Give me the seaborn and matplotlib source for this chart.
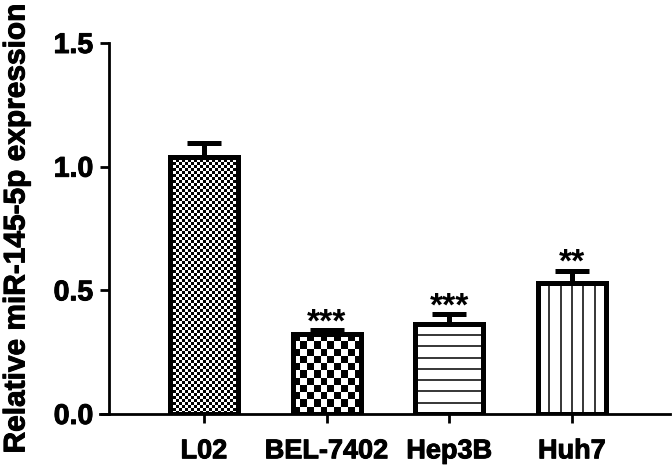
import numpy as np
import pandas as pd
import matplotlib
matplotlib.use("Agg")
import matplotlib.pyplot as plt
import matplotlib.patheffects as pe
import seaborn as sns

# ---- data ----
categories = ["L02", "BEL-7402", "Hep3B", "Huh7"]
means = [1.04, 0.323, 0.362, 0.530]
errors = [0.056, 0.017, 0.043, 0.050]
stars = ["", "***", "***", "**"]
yticks = [0.0, 0.5, 1.0, 1.5]
ylabel = "Relative miR-145-5p expression"

sns.set_theme(style="ticks")
plt.rcParams["font.family"] = ["Liberation Sans", "DejaVu Sans"]
plt.rcParams["font.weight"] = "bold"

W, H = 672, 468
fig = plt.figure(figsize=(W / 100, H / 100), dpi=100)
ax_l, ax_r, ax_b, ax_t = 100, 670, 414, 43
ax = fig.add_axes([ax_l / W, 1 - ax_b / H, (ax_r - ax_l) / W, (ax_b - ax_t) / H])

df = pd.DataFrame({"cat": categories, "val": means})
sns.barplot(data=df, x="cat", y="val", ax=ax, width=0.555, color="white",
            edgecolor="black", linewidth=3.6, errorbar=None, zorder=2)

ax.set_xlim(-0.848, 3.80)
ax.set_ylim(0, 1.5)
ax.spines["left"].set_position(("data", -0.774))
ax.spines["top"].set_visible(False)
ax.spines["right"].set_visible(False)
for s in ["left", "bottom"]:
    ax.spines[s].set_linewidth(2.0)
    ax.spines[s].set_color("black")
    ax.spines[s].set_zorder(3)

heavy = [pe.withStroke(linewidth=0.7, foreground="black")]

ax.set_yticks(yticks)
ax.set_yticklabels([f"{v:.1f}" for v in yticks], fontsize=20.5, fontweight="bold")
ax.set_xticks(range(len(categories)))
ax.set_xticklabels(categories, fontsize=19.5, fontweight="bold")
for t in ax.get_xticklabels() + ax.get_yticklabels():
    t.set_color("black")
    t.set_path_effects(heavy)
ax.tick_params(axis="both", direction="out", length=6.5, width=2.0, color="black")
ax.tick_params(axis="y", pad=5)
ax.tick_params(axis="x", pad=11)
ax.set_xlabel("")
ax.set_ylabel(ylabel, fontsize=21.5, fontweight="bold", color="black")
ax.yaxis.label.set_path_effects(heavy)
ax.yaxis.set_label_coords(-0.122, 0.5)

bars = [p for p in ax.patches]
for p in bars:
    p.set_facecolor("none")

fig.canvas.draw()
px_per_x = ax.transData.transform((1, 0))[0] - ax.transData.transform((0, 0))[0]
px_per_y = abs(ax.transData.transform((0, 1))[1] - ax.transData.transform((0, 0))[1])


def checker(p, cell):
    x0, y0 = p.get_x(), p.get_y()
    w, h = p.get_width(), p.get_height()
    nx = max(1, int(round(w * px_per_x / cell)))
    ny = max(1, int(round(h * px_per_y / cell)))
    img = (np.add.outer(np.arange(ny), np.arange(nx)) % 2).astype(float)
    im = ax.imshow(img, cmap="gray", vmin=0, vmax=1, extent=[x0, x0 + w, y0, y0 + h],
                   origin="lower", interpolation="nearest", aspect="auto", zorder=1.5)
    im.set_clip_path(p)


def hlines(p, spacing):
    x0, y0 = p.get_x(), p.get_y()
    w, h = p.get_width(), p.get_height()
    step = spacing / px_per_y
    ys = np.arange(y0 + step, y0 + h - step * 0.4, step)
    lc = ax.hlines(ys, x0, x0 + w, colors="black", linewidth=1.1, zorder=1.5)
    lc.set_clip_path(p)


def vlines(p, n):
    x0, y0 = p.get_x(), p.get_y()
    w, h = p.get_width(), p.get_height()
    xs = x0 + w * np.arange(1, n) / n
    lc = ax.vlines(xs, y0, y0 + h, colors="black", linewidth=1.1, zorder=1.5)
    lc.set_clip_path(p)


checker(bars[0], 3.0)
checker(bars[1], 7.0)
hlines(bars[2], 11.3)
vlines(bars[3], 6)

xs = np.arange(len(categories))
ax.errorbar(xs, means, yerr=[np.zeros(len(means)), errors], fmt="none",
            ecolor="black", elinewidth=3.6, capsize=12, capthick=3.6, zorder=2.5,
            clip_on=False)

for i, s in enumerate(stars):
    if s:
        ax.annotate(s, xy=(i, means[i] + errors[i]), xytext=(0, -1),
                    textcoords="offset points", ha="center", va="baseline",
                    fontsize=24, fontweight="bold", color="black",
                    annotation_clip=False)

fig.savefig("out.png", dpi=100)
